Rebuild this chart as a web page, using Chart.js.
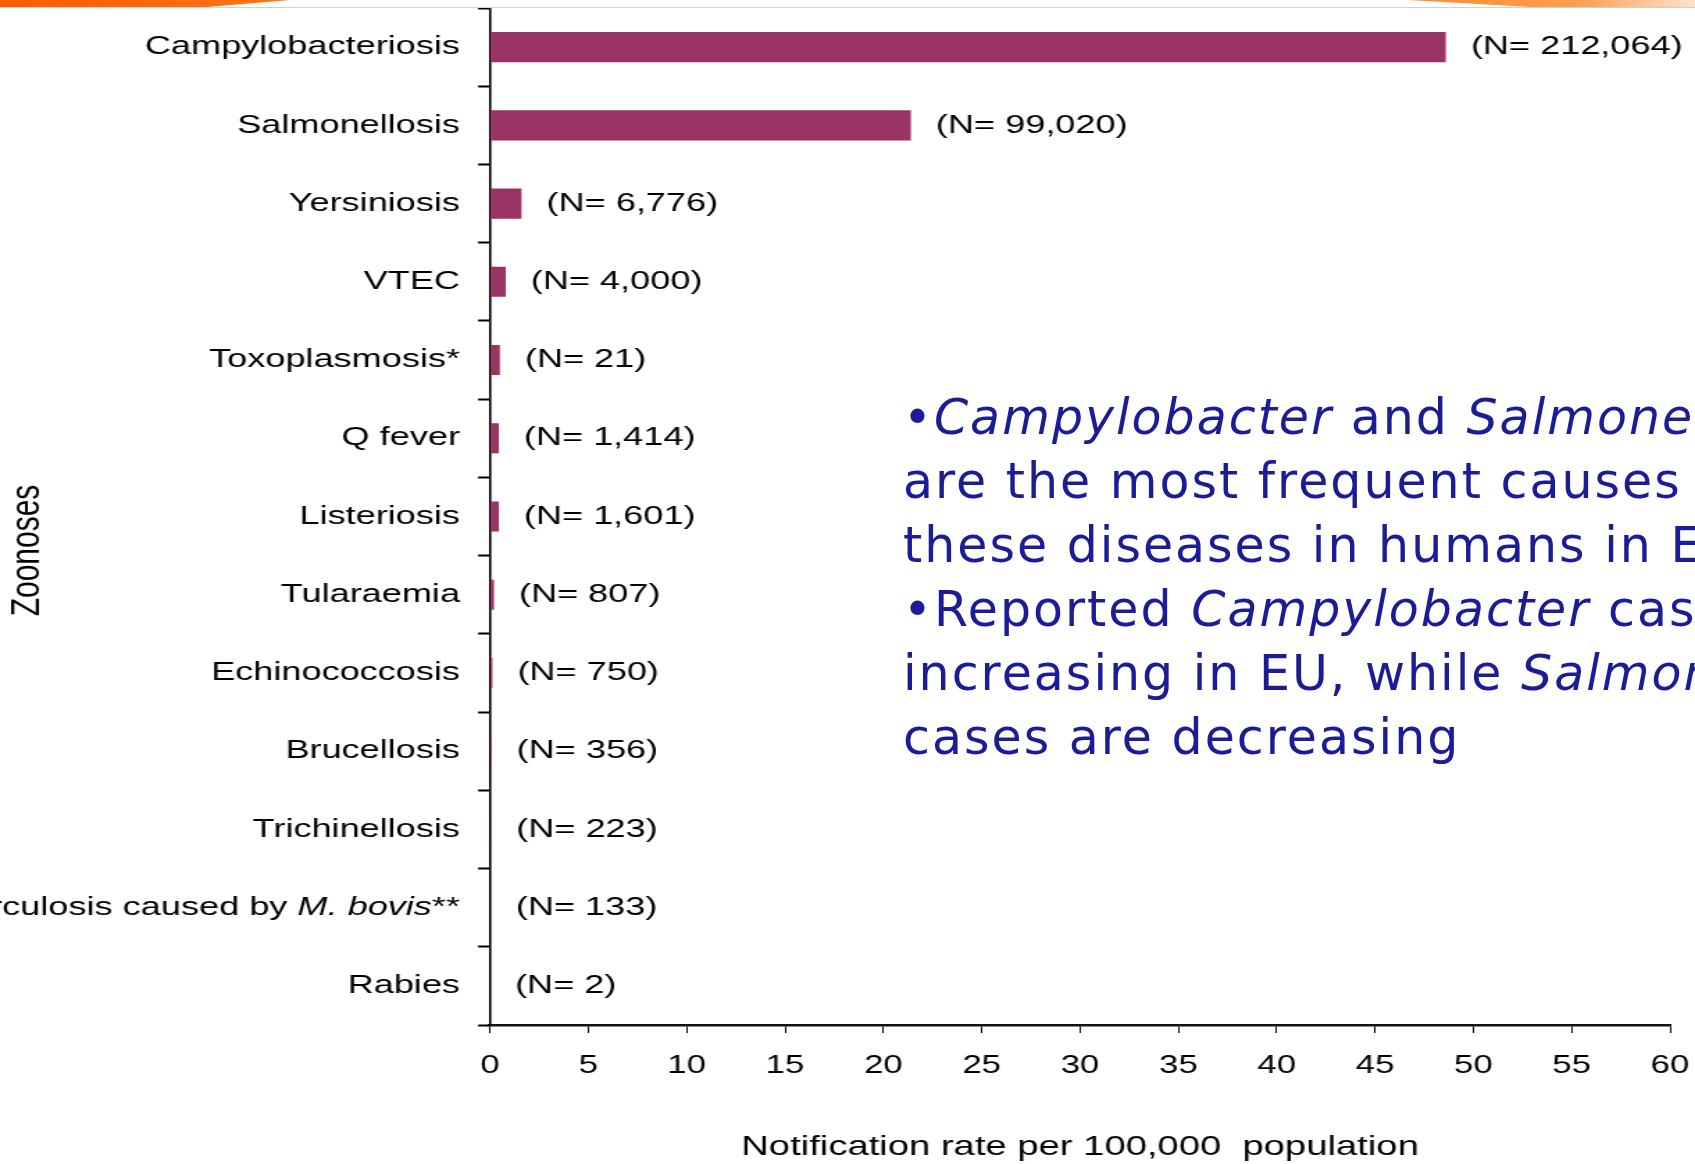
<!DOCTYPE html>
<html lang="en">
<head>
  <meta charset="UTF-8">
  <title>Zoonoses - notification rate per 100,000 population</title>
  <script src="https://cdn.jsdelivr.net/npm/chart.js"></script>
  <style>
    html, body { margin: 0; padding: 0; background: #fff; overflow: hidden; }
    body { width: 1695px; height: 1164px; position: relative; }
    /* the chart in the slide is stretched sideways, so the canvas is too */
    #wrap { position: absolute; left: 0; top: 0; width: 1220px; height: 1164px; transform: scaleX(1.38934); transform-origin: 0 0; }
    .band-l { position: absolute; left: 0; top: 0; width: 290px; height: 7px; background: linear-gradient(90deg, #ff5a00, #ff7414); clip-path: polygon(0 0, 100% 0, 207px 100%, 0 100%); }
    .band-r { position: absolute; left: 1408px; top: 0; width: 287px; height: 7px; background: linear-gradient(90deg, #ff8a30, #ff9f50 60%, #ffe2cc); clip-path: polygon(0 0, 100% 0, 100% 100%, 122px 100%); }
    .rule { position: absolute; left: 0; top: 7px; width: 1695px; height: 1px; background: #d0d0d0; }
    #note { position: absolute; left: 903px; top: 386px; font: 49px "DejaVu Sans", Verdana, sans-serif; letter-spacing: 2px; line-height: 64px; color: #1c1c96; white-space: nowrap; }
  </style>
</head>
<body>

  <div id="wrap"><canvas id="chart"></canvas></div>
  <div class="band-l"></div>
  <div class="band-r"></div>
  <div class="rule"></div>

  <div id="note">•<i>Campylobacter</i> and <i>Salmonella</i><br>are the most frequent causes of<br>these diseases in humans in EU<br>•Reported <i>Campylobacter</i> cases are<br>increasing in EU, while <i>Salmonella</i><br>cases are decreasing</div>

  <script>
    const categories = ['Campylobacteriosis', 'Salmonellosis', 'Yersiniosis', 'VTEC', 'Toxoplasmosis*', 'Q fever',
      'Listeriosis', 'Tularaemia', 'Echinococcosis', 'Brucellosis', 'Trichinellosis',
      'Tuberculosis caused by M. bovis**', 'Rabies'];
    const rates = [48.6, 21.4, 1.6, 0.8, 0.5, 0.45, 0.45, 0.2, 0.12, 0.08, 0.06, 0.04, 0];
    const caseCounts = ['212,064', '99,020', '6,776', '4,000', '21', '1,414', '1,601', '807', '750', '356', '223', '133', '2'];
    const xMin = 0, xMax = 60, xStep = 5;

    const FONT = '"Liberation Sans", Arial, sans-serif';
    const tbIndex = 11;

    // "(N= ...)" next to each bar
    const countLabels = {
      id: 'countLabels',
      afterDatasetsDraw(chart) {
        const ctx = chart.ctx;
        ctx.save();
        ctx.font = '26px ' + FONT;
        ctx.fillStyle = '#000';
        ctx.textBaseline = 'middle';
        chart.getDatasetMeta(0).data.forEach((bar, i) => {
          ctx.fillText('(N= ' + caseCounts[i] + ')', bar.x + 18, bar.y);
        });
        ctx.restore();
      }
    };

    // axis title (a bit below the middle) and the label with the italic name
    const sideText = {
      id: 'sideText',
      afterDraw(chart) {
        const ctx = chart.ctx, y = chart.scales.y;
        ctx.save();
        ctx.fillStyle = '#000';
        ctx.translate(20, (y.top + y.bottom) / 2 + 34);
        ctx.rotate(-Math.PI / 2);
        ctx.font = '30px ' + FONT;
        ctx.textAlign = 'center';
        ctx.textBaseline = 'middle';
        ctx.fillText('Zoonoses', 0, 0);
        ctx.restore();

        ctx.save();
        ctx.fillStyle = '#000';
        ctx.textAlign = 'right';
        ctx.textBaseline = 'middle';
        const ty = y.getPixelForTick(tbIndex);
        let x = y.right - 8.6 - 13;
        const parts = [['**', ''], ['M. bovis', 'italic '], ['Tuberculosis caused by ', '']];
        parts.forEach(([t, style]) => {
          ctx.font = style + '26px ' + FONT;
          ctx.fillText(t, x, ty);
          x -= ctx.measureText(t).width;
        });
        ctx.restore();
      }
    };

    new Chart(document.getElementById('chart'), {
      type: 'bar',
      data: {
        labels: categories,
        datasets: [{
          data: rates,
          backgroundColor: '#993366',
          borderWidth: 0,
          barPercentage: 0.385,
          categoryPercentage: 1
        }]
      },
      options: {
        indexAxis: 'y',
        responsive: true,
        maintainAspectRatio: false,
        animation: false,
        layout: { padding: { left: 0, top: 8, right: 18, bottom: 0 } },
        plugins: { legend: { display: false }, tooltip: { enabled: false } },
        scales: {
          x: {
            min: xMin, max: xMax,
            ticks: { stepSize: xStep, color: '#000', font: { family: FONT, size: 25 }, padding: 18, maxRotation: 0, autoSkip: false },
            grid: { drawOnChartArea: false, tickLength: 8, tickColor: '#000', tickWidth: 1 },
            border: { color: '#111', width: 2.5 },
            title: { display: true, text: 'Notification rate per 100,000  population', color: '#000', font: { family: FONT, size: 27.5 }, padding: { top: 0, bottom: 0 } },
            afterFit(s) { s.height = 139; s.paddingLeft = 0; s.paddingRight = 0; }
          },
          y: {
            ticks: {
              color: '#000', font: { family: FONT, size: 26 }, padding: 13, autoSkip: false,
              callback: (v, i) => i === tbIndex ? '' : categories[i]
            },
            grid: { drawOnChartArea: false, offset: true, tickLength: 8.6, tickColor: '#000', tickWidth: 2 },
            border: { color: '#000', width: 1.6 },
            afterFit(s) { s.width = 352.7; s.paddingTop = 0; s.paddingBottom = 0; }
          }
        }
      },
      plugins: [countLabels, sideText]
    });
  </script>
</body>
</html>
